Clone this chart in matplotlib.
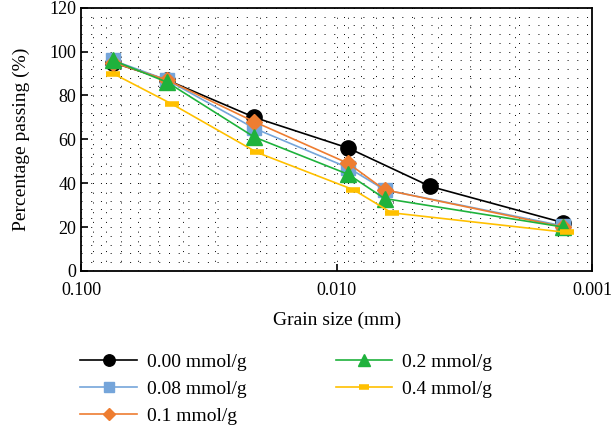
import numpy as np
import matplotlib
matplotlib.use("Agg")
import matplotlib.pyplot as plt
from matplotlib.ticker import FixedLocator, LogLocator, NullFormatter

plt.rcParams['font.family'] = ['Liberation Serif', 'DejaVu Serif']

# grain size (mm) for each series
x_000 = [0.075, 0.046, 0.021, 0.009, 0.0043, 0.0013]
x_main = [0.075, 0.046, 0.021, 0.009, 0.0065, 0.0013]
x_yellow = [0.075, 0.044, 0.0205, 0.0086, 0.0061, 0.00125]

# percentage passing (%)
p_000 = [95, 87, 70, 56, 38.5, 22]
p_008 = [96, 87, 65, 47, 37, 20.5]
p_01 = [95, 87, 68, 49, 37, 20]
p_02 = [96, 86, 61, 44, 33, 20]
p_04 = [90, 76, 54, 37, 26.5, 17.5]

labels = ['0.00 mmol/g', '0.08 mmol/g', '0.1 mmol/g', '0.2 mmol/g', '0.4 mmol/g']
colors = ['#000000', '#75a5da', '#ee7d31', '#1fb23c', '#ffc000']

fig = plt.figure(figsize=(6.15, 4.32), dpi=100)
ax = fig.add_axes([0.132, 0.373, 0.831, 0.609])

ax.plot(x_000, p_000, color=colors[0], lw=1.2, marker='o', ms=11,
        label=labels[0])
ax.plot(x_main, p_008, color=colors[1], lw=1.2, marker='s', ms=10,
        label=labels[1])
ax.plot(x_main, p_01, color=colors[2], lw=1.2, marker='D', ms=8,
        label=labels[2])
ax.plot(x_main, p_02, color=colors[3], lw=1.2, marker='^', ms=11,
        label=labels[3])
ax.plot(x_yellow, p_04, color=colors[4], lw=1.2, marker='_', ms=10, mew=4,
        label=labels[4])

ax.set_xscale('log')
ax.set_xlim(0.1, 0.001)
ax.set_ylim(0, 120)
ax.set_yticks(np.arange(0, 121, 20))
ax.yaxis.set_minor_locator(FixedLocator(np.arange(0, 121, 4)))
ax.set_xticks([0.1, 0.01, 0.001])
ax.set_xticklabels(['0.100', '0.010', '0.001'])
ax.xaxis.set_minor_locator(LogLocator(base=10, subs=np.arange(2, 10)))
ax.xaxis.set_minor_formatter(NullFormatter())

ax.grid(True, which='both', color='black', lw=0.7, linestyle=(0, (1, 9)))
ax.tick_params(which='major', direction='in', length=5, width=1.2,
               labelsize=13, top=False, right=False)
ax.tick_params(which='minor', direction='in', length=0)
ax.tick_params(axis='x', pad=8)
for s in ax.spines.values():
    s.set_linewidth(1.3)

ax.set_xlabel('Grain size (mm)', fontsize=14, labelpad=9)
ax.set_ylabel('Percentage passing (%)', fontsize=14, labelpad=14)

fig.legend(loc='upper left', bbox_to_anchor=(0.115, 0.205), ncol=2,
           frameon=False, fontsize=14, handlelength=2.9, markerscale=0.75,
           columnspacing=4.6, labelspacing=0.48, borderpad=0,
           handletextpad=0.5)

fig.savefig('out.png', dpi=100)
